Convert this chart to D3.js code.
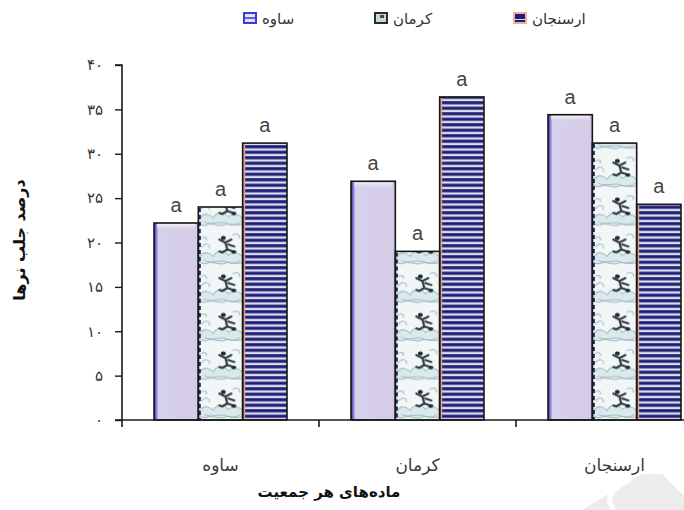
<!DOCTYPE html>
<html>
<head>
<meta charset="utf-8">
<script src="https://cdn.jsdelivr.net/npm/d3@7"></script>
<style>
  body { margin: 0; background: #fff; }
  svg { display: block; }
</style>
</head>
<body>
<svg id="chart" width="684" height="510"></svg>
<script>
// Populations (x groups) and the three series drawn inside each group
const categories = ["ساوه", "کرمان", "ارسنجان"];
const seriesNames = ["ساوه", "کرمان", "ارسنجان"];
// Percent of males attracted, one array per series (ordered by category)
const seriesSaveh   = [22.2, 26.9, 34.4];
const seriesKerman  = [24.0, 19.0, 31.2];
const seriesArsanjan = [31.2, 36.4, 24.3];
// Significance letters, one per bar
const lettersSaveh   = ["a", "a", "a"];
const lettersKerman  = ["a", "a", "a"];
const lettersArsanjan = ["a", "a", "a"];
// Y axis ticks and their Persian labels
const yTicks = [0, 5, 10, 15, 20, 25, 30, 35, 40];
const yTickLabels = ["۰", "۵", "۱۰", "۱۵", "۲۰", "۲۵", "۳۰", "۳۵", "۴۰"];
const yTitle = "درصد جلب نرها";
const xTitle = "ماده‌های هر جمعیت";

const seriesValues = [seriesSaveh, seriesKerman, seriesArsanjan];
const seriesLetters = [lettersSaveh, lettersKerman, lettersArsanjan];

const svg = d3.select("#chart");
const faFont = "'DejaVu Sans', sans-serif";

const x0 = d3.scaleBand().domain(categories).range([122, 713])
  .paddingInner(0.325).paddingOuter(0.1625);
const x1 = d3.scaleBand().domain(d3.range(seriesNames.length)).range([0, x0.bandwidth()]);
const y = d3.scaleLinear().domain([0, 40]).range([420, 65]);

const defs = svg.append("defs");

// lavender fill with a darker violet left edge
const lav = defs.append("linearGradient").attr("id", "lav").attr("x1", 0).attr("x2", 1).attr("y1", 0).attr("y2", 0);
[[0, "#3b2fb0"], [0.05, "#7f74cc"], [0.1, "#d7d0ea"], [0.9, "#d5cde8"], [1, "#cfc7e4"]]
  .forEach(([o, c]) => lav.append("stop").attr("offset", o).attr("stop-color", c));
const lavTop = defs.append("linearGradient").attr("id", "lavTop").attr("x1", 0).attr("x2", 0).attr("y1", 0).attr("y2", 1);
[[0, "#f3f0fa", 1], [1, "#d7d0ea", 0]]
  .forEach(([o, c, a]) => lavTop.append("stop").attr("offset", o).attr("stop-color", c).attr("stop-opacity", a));

// horizontal navy stripes
const stripeH = 5.5;
const stripes = defs.append("pattern").attr("id", "stripes")
  .attr("patternUnits", "userSpaceOnUse").attr("width", 10).attr("height", stripeH)
  .attr("y", y(0));
stripes.append("rect").attr("width", 10).attr("height", stripeH).attr("fill", "#dcdceb");
stripes.append("rect").attr("y", 0.2).attr("width", 10).attr("height", 3.1).attr("fill", "#1e1e78");

// picture tile used by the middle series, one pattern per group so tiles line up with each bar
const tileH = 38.5;
function tileContent(p, w) {
  p.append("rect").attr("width", w).attr("height", tileH).attr("fill", "#f2f6f6");
  // pale cloud swirls
  p.append("path")
    .attr("d", `M1,30 C6,22 12,26 15,29 C18,22 26,22 30,28 C34,24 40,25 ${w},29 L${w},35 C38,38 30,33 26,36 C20,38 14,33 8,36 C5,37 2,35 1,34 Z`)
    .attr("fill", "#dce9ec").attr("stroke", "#9fbcc3").attr("stroke-width", 1);
  p.append("path")
    .attr("d", "M3,20 C7,14 12,17 11,21 M2,11 C6,8 9,10 8,13 M34,8 C38,5 42,7 41,11")
    .attr("fill", "none").attr("stroke", "#a9c4ca").attr("stroke-width", 1.2);
  p.append("path")
    .attr("d", "M6,33 C14,37 22,31 30,35 C34,37 38,35 42,33")
    .attr("fill", "none").attr("stroke", "#8fb0b8").attr("stroke-width", 0.8);
  // dark figure
  p.append("path")
    .attr("d", "M21,12 L27,15 L33,12 M27,15 L29,22 L35,24 M29,22 L24,25 L21,24 M30,17 L36,19")
    .attr("fill", "none").attr("stroke", "#1d2c33").attr("stroke-width", 2.2).attr("stroke-linecap", "round")
    .attr("opacity", 0.9);
  p.append("ellipse").attr("cx", 25).attr("cy", 10.5).attr("rx", 2.5).attr("ry", 2).attr("fill", "#1d2c33");
  p.append("ellipse").attr("cx", 35.5).attr("cy", 24.5).attr("rx", 2.6).attr("ry", 1.8).attr("fill", "#1d2c33");
}
categories.forEach((c, i) => {
  const w = x1.bandwidth();
  const p = defs.append("pattern").attr("id", "tile" + i)
    .attr("patternUnits", "userSpaceOnUse").attr("width", w).attr("height", tileH)
    .attr("x", x0(c) + x1(1)).attr("y", y(0));
  tileContent(p, w);
});

// faint grey mark in the lower right corner (sits behind the labels)
svg.append("path")
  .attr("d", "M582,510 L642,474 L662,474 L684,496 L684,510 Z")
  .attr("fill", "#ececec");
svg.append("path")
  .attr("d", "M614,510 C604,498 612,488 630,480")
  .attr("fill", "none").attr("stroke", "#fff").attr("stroke-width", 5);

// bars
const bars = [];
categories.forEach((c, ci) => {
  seriesValues.forEach((vals, si) => {
    bars.push({ c, ci, si, v: vals[ci], letter: seriesLetters[si][ci] });
  });
});
const fillFor = d => d.si === 0 ? "url(#lav)" : d.si === 1 ? `url(#tile${d.ci})` : "url(#stripes)";

const g = svg.append("g");
g.selectAll("rect.bar").data(bars).join("rect").attr("class", "bar")
  .attr("x", d => x0(d.c) + x1(d.si))
  .attr("y", d => y(d.v))
  .attr("width", x1.bandwidth())
  .attr("height", d => y(0) - y(d.v))
  .attr("fill", fillFor);

// top bevel on the lavender bars
g.selectAll("rect.bevel").data(bars.filter(d => d.si === 0)).join("rect").attr("class", "bevel")
  .attr("x", d => x0(d.c) + x1(d.si) + 3)
  .attr("y", d => y(d.v) + 1)
  .attr("width", x1.bandwidth() - 6)
  .attr("height", 7)
  .attr("fill", "url(#lavTop)");

// coloured left edges of the patterned bars
g.selectAll("line.edge").data(bars.filter(d => d.si > 0)).join("line").attr("class", "edge")
  .attr("x1", d => x0(d.c) + x1(d.si) + 1.5)
  .attr("x2", d => x0(d.c) + x1(d.si) + 1.5)
  .attr("y1", d => y(d.v) + 1)
  .attr("y2", y(0))
  .attr("stroke", d => d.si === 1 ? "#1d2a5a" : "#e7a286")
  .attr("stroke-width", 2)
  .attr("stroke-dasharray", d => d.si === 1 ? "4,3" : null);

// outlines
g.selectAll("rect.outline").data(bars).join("rect").attr("class", "outline")
  .attr("x", d => x0(d.c) + x1(d.si))
  .attr("y", d => y(d.v))
  .attr("width", x1.bandwidth())
  .attr("height", d => y(0) - y(d.v))
  .attr("fill", "none").attr("stroke", "#161616").attr("stroke-width", 1.6);

// letters above bars
g.selectAll("text.letter").data(bars).join("text").attr("class", "letter")
  .attr("x", d => x0(d.c) + x1(d.si) + x1.bandwidth() / 2)
  .attr("y", d => y(d.v) - 11)
  .attr("text-anchor", "middle")
  .attr("font-family", "'Liberation Sans', Arial, sans-serif")
  .attr("font-size", 20).attr("fill", "#444")
  .text(d => d.letter);

// y axis
const yAxis = d3.axisLeft(y).tickValues(yTicks).tickSize(7).tickPadding(12)
  .tickFormat((d, i) => yTickLabels[i]);
const ya = svg.append("g").attr("transform", "translate(122,0)").call(yAxis);
ya.select(".domain").attr("stroke", "#1a1a1a").attr("stroke-width", 1.6).attr("d", `M-7,${y(40)}H0V${y(0)}`);
ya.selectAll(".tick line").attr("stroke", "#1a1a1a").attr("stroke-width", 1.4);
ya.selectAll(".tick text").attr("font-family", faFont).attr("font-size", 15).attr("fill", "#333");

// x axis with ticks at group boundaries
const step = x0.step();
const bounds = categories.map(c => x0(c) - x0.paddingOuter() * step);
const xa = svg.append("g");
xa.append("line").attr("x1", 115).attr("x2", 684).attr("y1", y(0)).attr("y2", y(0))
  .attr("stroke", "#1a1a1a").attr("stroke-width", 1.6);
xa.selectAll("line.tk").data(bounds).join("line").attr("class", "tk")
  .attr("x1", d => d).attr("x2", d => d).attr("y1", y(0)).attr("y2", y(0) + 7)
  .attr("stroke", "#1a1a1a").attr("stroke-width", 1.6);
xa.selectAll("text.cat").data(categories).join("text").attr("class", "cat")
  .attr("x", d => x0(d) + x0.bandwidth() / 2)
  .attr("y", 471)
  .attr("text-anchor", "middle")
  .attr("font-family", faFont).attr("font-size", 17).attr("fill", "#3a3a3a")
  .text(d => d);

// axis titles
svg.append("text").attr("x", 329).attr("y", 497).attr("text-anchor", "middle")
  .attr("font-family", faFont).attr("font-weight", "bold").attr("font-size", 15).attr("fill", "#111")
  .text(xTitle);
svg.append("text").attr("transform", "translate(25,240) rotate(-90)").attr("text-anchor", "middle")
  .attr("font-family", faFont).attr("font-weight", "bold").attr("font-size", 16).attr("fill", "#111")
  .text(yTitle);

// legend
const legendX = [244, 375, 514];
const lg = svg.append("g");
seriesNames.forEach((name, i) => {
  const gx = legendX[i];
  const item = lg.append("g").attr("transform", `translate(${gx},13)`);
  if (i === 0) {
    item.append("rect").attr("width", 12).attr("height", 10).attr("fill", "#e4e0f4").attr("stroke", "#3a3ad2").attr("stroke-width", 2);
    item.append("line").attr("x1", 1).attr("x2", 11).attr("y1", 5).attr("y2", 5).attr("stroke", "#3a3ad2").attr("stroke-width", 1.5);
  } else if (i === 1) {
    item.append("rect").attr("width", 12).attr("height", 10).attr("fill", "#c9d6d6").attr("stroke", "#2c2c2c").attr("stroke-width", 2);
    item.append("rect").attr("x", 5).attr("y", 2).attr("width", 4).attr("height", 3).attr("fill", "#3c4a4a");
  } else {
    item.append("rect").attr("width", 12).attr("height", 10).attr("fill", "#1e1e7a").attr("stroke", "#efb0a0").attr("stroke-width", 2);
    item.append("line").attr("x1", 1).attr("x2", 11).attr("y1", 6.5).attr("y2", 6.5).attr("stroke", "#d8d8ee").attr("stroke-width", 1);
  }
  lg.append("text").attr("x", gx + 18).attr("y", 24)
    .attr("font-family", faFont).attr("font-size", 15).attr("fill", "#333")
    .text(name);
});
</script>
</body>
</html>
